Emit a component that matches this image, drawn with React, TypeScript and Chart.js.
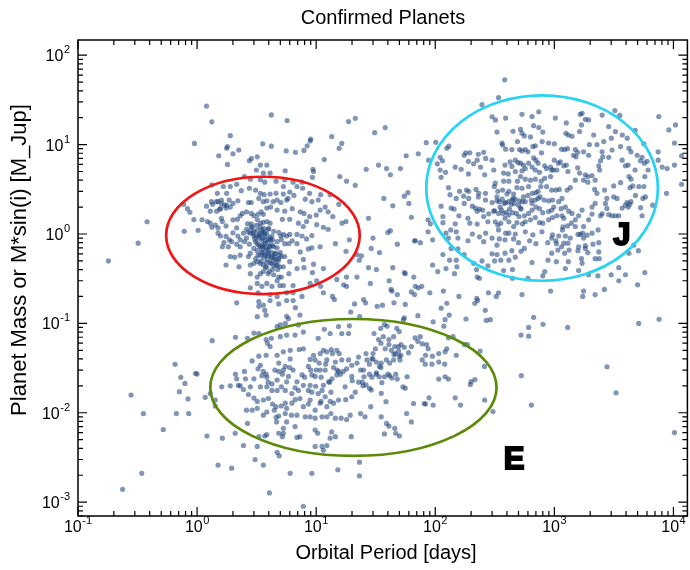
import { useEffect, useRef } from "react";
import { Chart, registerables } from "chart.js";

Chart.register(...registerables);

// Each entry: [orbital period (days), planet mass or M*sin(i) (M_Jup)]
const hotJupiters: [number, number][] = [
  [0.95,10.3],[1.8,9.5],[1.77,9.1],[3.56,10.2],[4.2,9.6],[8.4,9.7],[8.9,11],[16.4,10.3],[15.6,9.1],[1.52,7.5],
  [2.0,7.9],[2.24,8.7],[5.6,8.5],[6.7,8.2],[7.9,8.6],[11.7,6.8],[2.86,7.0],[3.2,7.3],[2.75,6.6],[1.8,6.0],
  [3.4,5.9],[3.85,5.9],[3.15,5.2],[3.6,4.8],[4.1,4.8],[5.5,5.1],[9.4,5.3],[9.5,5.0],[15.8,4.4],[18,3.9],
  [21.3,3.5],[9.3,4.3],[2.5,4.4],[2.8,4.1],[3.4,4.05],[3.7,3.8],[4.6,3.9],[5.45,4.05],[6.4,3.8],[7.6,3.8],
  [1.33,3.55],[1.66,3.4],[1.9,3.4],[2.15,3.6],[2.75,3.25],[3.1,3.1],[2.35,3.05],[3.4,2.85],[3.65,2.75],[4.1,2.8],
  [4.6,2.85],[5.3,3.4],[5.3,2.8],[6.0,2.95],[6.9,3.4],[7.7,3.25],[8.8,2.85],[10.9,2.75],[13.1,2.75],[15.5,2.15],
  [1.48,2.85],[1.77,2.85],[1.32,2.3],[1.35,2.15],[1.5,2.3],[1.6,2.4],[1.2,2.05],[1.29,1.8],[1.46,1.8],[1.57,1.92],
  [1.77,2.1],[1.86,2.4],[2.2,2.35],[2.7,2.25],[2.85,2.25],[3.3,2.5],[3.6,2.3],[3.85,2.35],[4.35,2.3],[4.7,2.4],
  [5.05,2.25],[5.65,2.4],[5.8,2.5],[6.5,2.7],[8.1,2.45],[9.2,2.3],[10.4,2.4],[0.77,2.15],[0.83,1.92],[0.87,1.75],
  [0.94,1.45],[1.1,1.44],[1.02,1.1],[0.78,1.07],[1.22,1.38],[1.29,1.32],[1.33,1.19],[1.42,1.26],[1.5,1.17],[1.6,1.5],
  [1.63,1.38],[1.75,1.23],[2.0,1.44],[2.18,1.46],[2.3,1.6],[2.4,1.7],[2.6,1.77],[2.85,1.7],[3.24,1.66],[3.45,1.77],
  [3.6,1.66],[3.85,1.95],[4.15,2.0],[4.7,1.85],[5.45,1.8],[6.3,1.92],[7.35,1.77],[7.9,1.7],[8.8,1.57],[10,1.63],
  [10.8,1.85],[11.9,2.0],[12.6,1.77],[13.8,1.57],[16.5,1.32],[17.8,1.38],[8.3,1.38],[7.8,1.21],[7.1,1.32],[6.0,1.46],
  [5.2,1.46],[10.1,1.27],[11.5,1.19],[12.6,1.13],[1.5,1.02],[1.57,0.95],[1.75,0.94],[1.87,0.86],[2.0,1.03],[2.15,1.17],
  [2.2,0.95],[2.3,0.86],[2.45,1.02],[2.6,1.13],[2.8,1.02],[2.85,1.17],[3.0,1.07],[3.15,0.95],[3.3,0.99],[3.5,1.11],
  [3.7,1.02],[3.95,1.13],[4.1,1.32],[3.85,1.38],[4.25,0.95],[4.4,1.07],[4.85,1.04],[5.05,0.95],[5.3,0.99],[5.65,0.95],
  [6.0,0.99],[6.9,0.99],[7.6,0.95],[8.3,0.88],[9.2,0.96],[1.63,0.72],[1.68,0.8],[1.83,0.72],[1.95,0.82],[2.15,0.77],
  [2.3,0.72],[2.5,0.82],[2.75,0.77],[3.0,0.69],[3.2,0.78],[3.4,0.72],[3.6,0.72],[3.85,0.66],[4.1,0.73],[4.4,0.72],
  [4.7,0.82],[5.1,0.86],[5.45,0.78],[5.9,0.78],[6.3,0.84],[6.9,0.78],[7.35,0.63],[8.6,0.68],[9.2,0.7],[10.8,0.72],
  [14.5,0.78],[19,0.86],[17.8,0.64],[22,0.59],[24,0.57],[23,0.51],[1.9,0.56],[2.07,0.55],[2.3,0.58],[2.7,0.56],
  [2.8,0.61],[3.1,0.53],[3.4,0.58],[3.7,0.58],[3.95,0.58],[4.25,0.55],[4.55,0.61],[4.85,0.53],[5.1,0.56],[5.45,0.56],
  [6.0,0.49],[7.8,0.52],[9.5,0.46],[1.75,0.45],[2.25,0.43],[2.8,0.45],[3.0,0.47],[3.2,0.49],[3.4,0.47],[3.6,0.45],
  [3.85,0.43],[4.1,0.48],[4.4,0.44],[4.7,0.45],[4.95,0.43],[5.3,0.43],[6.9,0.41],[7.9,0.42],[11.5,0.41],[9.3,0.37],
  [2.8,0.36],[3.2,0.33],[3.4,0.36],[3.6,0.38],[3.95,0.36],[4.4,0.35],[4.85,0.33],[5.1,0.33],[5.9,0.36],[10.1,0.3],
  [14.9,0.31],[18,0.33],[22,0.33],[17,0.27],[18,0.26],[2.8,0.25],[3.2,0.28],[3.5,0.26],[3.85,0.28],[4.25,0.26],
  [4.7,0.3],[4.95,0.265],[5.3,0.265],[6.4,0.265],[8.9,0.28],[10.9,0.26],[6.4,0.22],[5.65,0.22],[3.25,0.22],[4.1,0.21],
  [4.7,0.2],[7.6,0.2],[11.5,0.22],[13.7,0.2],[14.2,0.185],[25,0.185],[26,0.17],[21,0.165],[2.15,0.17],[3.3,0.175],
  [3.6,0.16],[4.1,0.18],[4.85,0.165],[5.65,0.18],[6.4,0.18],[6.7,0.15],[3.3,0.155],
  [3.3,0.9],[3.5,0.85],[3.7,0.95],[3.9,0.8],[4.1,0.9],[3.2,1.1],[3.4,1.2],[3.6,1.05],[3.0,0.95],[2.9,1.2],
  [4.3,0.75],[4.5,0.6],[4.0,0.65],[3.8,0.7],[3.5,0.62],[4.2,0.55],[4.4,0.5],[3.9,0.52],[4.6,0.45],[4.8,0.5],
  [3.3,0.75],[3.1,0.82],[2.7,1.05],[2.6,0.9],[3.6,1.35],[3.2,1.45],[3.0,1.6],[2.85,1.3],[4.7,0.7],[5.0,0.62],
  [3.75,0.42],[4.05,0.38],[4.3,0.4],[3.45,0.5],[3.25,0.58],[4.15,0.85],[3.55,0.75],[3.85,1.0],[4.0,1.15],[3.65,0.55],
  [1.6,2.2],[1.7,2.1],[1.55,1.9],[1.9,2.0],[2.0,2.2],[1.45,2.3],[1.75,1.95],
  [3.35,0.95],[3.55,0.9],[3.75,0.85],[3.95,0.88],[3.45,1.02],[3.7,0.78],[4.05,0.72],[4.25,0.62],[3.95,0.6],[4.45,0.55],
  [4.6,0.52],[4.2,0.47],[3.8,0.48],[3.5,0.68],[3.2,0.65],[3.05,0.88],[2.95,1.02],[3.65,1.15],[3.4,1.32],[4.3,0.86],
  [4.9,0.58],[4.75,0.4],[3.6,0.62],[3.15,1.25],[2.65,1.3],
];

const coldGiants: [number, number][] = [
  [340,33.5],[383,53],[247,28],[300,20.5],[320,18.9],[390,19.8],[535,21.8],[650,20.6],[740,23.3],[670,16.3],
  [740,15.5],[800,13.8],[330,13.8],[450,14.1],[520,14.8],[535,13.4],[560,12.5],[630,12.2],[490,10.8],[363,10.4],
  [368,9.9],[390,8.9],[440,8.8],[510,8.8],[535,8.5],[570,8.8],[600,8.3],[660,9.5],[692,9.7],[790,10.8],
  [895,10.4],[1000,10.2],[780,8.1],[1000,6.7],[930,5.6],[980,5.2],[84,10.5],[101,10.6],[125,9.1],[130,9.6],
  [72,7.9],[88,6.7],[110,7.2],[115,6.6],[180,8.1],[195,8.1],[175,7.6],[230,7.8],[255,8.2],[225,6.7],
  [265,7.0],[300,6.7],[190,6.5],[210,6.1],[240,5.6],[385,5.9],[425,6.4],[470,6.7],[495,6.3],[440,5.7],
  [520,6.2],[550,5.9],[608,6.2],[670,7.1],[700,6.7],[730,6.2],[830,5.8],[860,5.4],[950,5.2],[104,6.1],
  [110,5.2],[122,4.9],[147,5.6],[165,5.3],[190,4.7],[112,4.3],[260,4.6],[310,5.2],[375,4.8],[410,4.7],
  [470,5.0],[535,5.1],[570,5.4],[650,5.6],[692,5.2],[750,4.9],[930,4.4],[319,3.7],[375,3.9],[415,3.9],
  [490,3.9],[520,4.4],[570,4.1],[630,4.0],[692,4.1],[775,3.9],[830,4.2],[129,3.3],[160,3.0],[183,3.1],
  [191,3.0],[220,3.15],[232,2.85],[264,2.85],[133,2.75],[150,2.5],[173,2.65],[191,2.5],[230,2.6],[313,3.4],
  [335,3.0],[368,3.1],[415,3.0],[455,2.8],[485,3.3],[535,3.25],[608,3.4],[655,2.85],[730,3.0],[770,3.4],
  [860,3.4],[950,3.1],[112,2.05],[136,1.95],[144,1.9],[175,2.2],[205,2.05],[217,1.95],[235,1.9],[250,1.85],
  [264,2.4],[300,2.25],[330,2.35],[345,2.3],[365,2.45],[390,2.25],[413,2.3],[440,2.4],[460,2.2],[510,2.35],
  [550,2.6],[570,2.3],[650,2.2],[692,2.4],[730,2.5],[820,2.4],[895,2.35],[965,2.4],[116,1.57],[158,1.6],
  [188,1.5],[225,1.8],[255,1.57],[281,1.68],[315,1.82],[340,1.7],[372,1.7],[413,1.63],[445,1.73],[505,1.57],
  [525,1.9],[608,1.7],[650,1.85],[700,2.0],[750,1.92],[800,1.73],[895,1.78],[950,1.85],[990,2.0],[87,1.44],
  [91,1.3],[116,1.34],[147,1.3],[195,1.32],[225,1.29],[277,1.37],[319,1.37],[335,1.26],[355,1.32],[385,1.5],
  [415,1.37],[455,1.21],[485,1.34],[540,1.3],[570,1.37],[630,1.44],[692,1.53],[750,1.34],[800,1.32],[895,1.44],
  [965,1.53],[87,1.06],[123,1.02],[135,1.11],[150,1.06],[205,1.0],[265,1.02],[340,1.11],[390,1.02],[415,1.02],
  [470,1.0],[570,1.06],[660,0.98],[787,1.06],[965,0.98],[68,0.84],[75,0.8],[95,0.86],[129,0.9],[155,0.9],
  [188,0.84],[235,0.93],[255,0.82],[300,0.9],[330,0.75],[345,0.88],[385,0.86],[455,0.88],[500,0.8],[620,0.84],
  [700,0.78],[880,0.8],[950,0.9],[136,0.69],[116,0.59],[155,0.68],[175,0.59],[300,0.6],[330,0.59],[385,0.61],
  [440,0.65],[470,0.55],[525,0.64],[560,0.69],[950,0.61],[132,0.51],[150,0.51],[210,0.47],[247,0.5],[315,0.5],
  [355,0.51],[415,0.51],[650,0.48],[885,0.51],[95,0.45],[123,0.41],[152,0.43],[105,0.38],[145,0.36],[222,0.4],
  [277,0.44],[375,0.39],[445,0.4],[830,0.38],[225,0.33],[235,0.32],[445,0.32],[600,0.32],[800,0.34],[68,0.26],
  [72,0.25],[77,0.26],[90,0.22],[117,0.23],[158,0.2],[280,0.22],[325,0.2],[340,0.22],[535,0.21],[930,0.23],
  [1020,19.8],[1260,17.5],[1650,21.8],[1710,22.4],[1820,19.2],[1940,18.9],[1690,16.6],[1630,14.0],[2520,21.4],[3220,24],
  [3540,21.2],[2860,15.9],[3260,14.0],[3720,12.8],[4090,11.8],[4770,14.4],[1250,13.4],[1310,12.8],[1407,12.4],[2140,12.8],
  [3010,11.8],[1970,10.0],[2280,10.0],[2600,10.8],[3055,8.7],[3600,9.5],[4230,9.1],[4400,8.3],[4960,7.6],[5460,7.2],
  [5640,10.2],[7535,20.6],[9150,14.6],[10400,16.6],[10200,10.4],[7440,8.3],[7440,6.7],[8050,5.6],[8850,5.4],[10200,5.9],
  [11700,7.5],[11700,3.6],[8750,2.85],[6700,2.1],[1150,8.9],[1220,8.8],[1290,9.0],[1500,8.8],[1570,8.2],[1520,7.3],
  [1450,7.6],[1760,8.3],[1940,7.6],[2520,8.3],[2550,7.3],[2440,6.6],[2860,7.2],[3710,6.7],[3955,5.8],[4170,5.9],
  [5280,6.6],[5700,6.2],[6000,6.5],[6120,5.2],[4760,5.2],[5750,4.4],[1050,5.2],[1080,6.2],[1120,6.4],[1200,5.8],
  [1260,5.9],[1300,5.0],[1570,5.5],[1630,4.8],[1820,4.6],[1910,4.4],[2070,4.5],[2200,4.0],[2360,5.8],[2400,5.2],
  [1760,4.0],[1910,3.8],[2180,3.15],[2640,3.1],[2280,2.85],[2760,2.5],[3150,2.6],[3360,2.5],[3150,3.45],[3600,3.75],
  [4230,4.4],[4400,4.1],[4550,3.45],[5120,3.4],[5640,3.4],[5540,2.5],[5820,2.6],[4320,3.3],[3955,2.1],[4080,2.25],
  [3710,1.95],[3475,1.6],[3260,1.6],[3055,1.6],[2860,1.65],[2520,1.68],[2440,1.6],[2073,2.0],[2200,2.2],[2685,2.2],
  [2760,1.93],[2073,1.67],[1940,1.44],[1710,1.85],[1600,1.6],[1500,1.44],[1407,1.7],[1320,1.8],[1237,2.0],[1140,1.92],
  [1088,2.3],[1160,2.5],[1100,3.15],[1280,3.1],[1360,3.3],[1500,4.0],[1030,3.1],[1050,1.6],[1160,1.6],[1200,1.5],
  [4800,2.7],[5300,1.97],[5460,1.6],[4400,2.3],[4170,2.0],[4300,2.15],[1760,1.21],[1500,1.21],[1390,1.32],[1290,1.23],
  [1180,1.2],[1088,0.95],[1170,1.11],[1237,0.95],[1360,0.9],[1580,0.99],[1650,0.99],[1730,1.02],[1880,0.97],[2073,1.02],
  [2330,1.11],[1760,0.9],[1820,0.74],[1600,0.72],[1820,0.69],[1910,0.62],[2110,0.77],[2360,0.8],[1030,0.84],[1040,0.78],
  [1150,0.72],[1200,0.79],[1300,0.79],[1070,0.66],[1220,0.61],[1330,0.66],[1580,0.65],[2200,0.53],[2380,0.53],[2360,0.63],
  [1690,0.53],[1710,0.47],[1310,0.49],[1040,0.49],[1237,0.41],[1600,0.39],[1940,0.35],[2320,0.34],[3000,0.35],[3955,0.35],
  [3475,0.42],[4230,0.61],[4640,0.75],[5080,0.65],[5750,0.37],[5000,0.27],[3475,0.3],[2630,0.24],[2200,0.21],[1760,0.23],
  [1730,0.2],
  [350,2.0],[380,2.2],[420,1.9],[450,2.5],[500,2.1],[540,2.3],[310,1.8],[330,2.6],[480,1.7],[600,2.7],
  [640,2.4],[700,2.9],[760,2.6],[560,1.6],[400,2.8],[360,1.85],[435,2.15],[520,1.95],[470,2.45],[395,1.75],
];

const superEarths: [number, number][] = [
  [3.2,0.119],[3.7,0.14],[3.8,0.124],[5.65,0.12],[5.85,0.113],[7.3,0.124],[4.7,0.092],[5.0,0.096],[5.5,0.1],[7.1,0.096],
  [7.8,0.08],[3.0,0.078],[3.3,0.077],[2.1,0.07],[2.65,0.068],[3.8,0.066],[4.2,0.068],[3.9,0.06],[4.1,0.055],[5.0,0.071],
  [5.65,0.074],[6.65,0.074],[10.4,0.068],[11.7,0.086],[15.4,0.092],[19,0.094],[16.4,0.077],[18.7,0.077],[13.1,0.077],[1.34,0.064],
  [6.05,0.05],[7.2,0.051],[7.8,0.052],[5.3,0.048],[6.05,0.04],[4.7,0.044],[3.8,0.044],[3.3,0.043],[2.9,0.038],[3.4,0.034],
  [3.25,0.031],[3.6,0.029],[3.8,0.027],[3.85,0.025],[3.5,0.026],[3.95,0.022],[4.25,0.021],[4.7,0.0232],[4.85,0.036],[4.85,0.029],
  [5.5,0.033],[5.3,0.03],[5.85,0.0255],[5.65,0.0222],[6.4,0.03],[6.9,0.0222],[7.6,0.0265],[7.8,0.0203],[8.6,0.033],[8.9,0.0395],
  [9.5,0.044],[9.8,0.039],[10.6,0.036],[10.8,0.046],[11.5,0.05],[12.3,0.048],[13.4,0.051],[13.7,0.046],[14.9,0.05],[15.6,0.046],
  [16.4,0.039],[14.5,0.037],[12.3,0.039],[11.9,0.03],[10.8,0.03],[9.8,0.0255],[9.2,0.0265],[8.9,0.0203],[9.9,0.0198],[11.2,0.0178],
  [11.5,0.0203],[12.7,0.0222],[13.6,0.024],[14.9,0.0265],[15.4,0.029],[16.9,0.029],[18,0.031],[18.7,0.039],[19.9,0.034],[19.9,0.0255],
  [17.5,0.0195],[13.3,0.017],[11.9,0.0151],[11.0,0.0134],[10.4,0.0164],[9.2,0.017],[8.6,0.0178],[7.1,0.0178],[6.65,0.019],[6.25,0.0164],
  [5.5,0.0178],[5.1,0.0195],[4.7,0.0178],[4.25,0.0178],[3.85,0.0195],[3.4,0.0195],[2.8,0.0195],[2.45,0.0182],[2.22,0.0203],[2.15,0.024],
  [2.3,0.02],[2.55,0.024],[3.0,0.024],[2.5,0.029],[2.1,0.027],[1.9,0.02],[1.61,0.0195],[1.17,0.0149],[1.29,0.0164],[1.42,0.0139],
  [1.42,0.0119],[2.7,0.016],[3.0,0.0146],[3.2,0.0134],[3.6,0.0139],[3.97,0.0144],[4.3,0.0125],[4.6,0.0117],[5.1,0.0119],[5.5,0.0128],
  [5.65,0.0112],[6.25,0.0128],[6.65,0.014],[7.3,0.0144],[7.8,0.0117],[8.6,0.0125],[8.9,0.0139],[9.8,0.0107],[10.8,0.0128],[12.3,0.0117],
  [13.1,0.0134],[14.0,0.0128],[15.4,0.0139],[17.7,0.014],[19.9,0.0151],[20.1,0.0228],[21.3,0.017],[19.3,0.0094],[18,0.0084],[16.2,0.0087],
  [14.5,0.0087],[13.3,0.0098],[12.3,0.009],[11.2,0.009],[9.8,0.0087],[8.9,0.009],[8.1,0.009],[6.9,0.0094],[6.2,0.0094],[5.5,0.0098],
  [4.85,0.0092],[4.6,0.0089],[4.45,0.0107],[3.85,0.0102],[3.6,0.0094],[3.2,0.0112],[2.9,0.0107],[2.6,0.0107],[2.65,0.0076],[4.65,0.0079],
  [5.65,0.0079],[6.65,0.007],[7.3,0.0054],[6.9,0.0053],[5.3,0.0067],[5.3,0.0059],[5.2,0.0054],[4.85,0.0059],[3.85,0.0057],[3.7,0.0055],
  [3.3,0.0054],[3.2,0.0042],[2.45,0.0043],[2.09,0.0059],[1.63,0.0052],[1.21,0.0055],[9.8,0.0064],[10.3,0.0059],[11.2,0.0042],[11.5,0.0038],
  [12.3,0.0043],[13.5,0.0061],[13.1,0.0052],[14.5,0.0054],[19.7,0.0054],[4.7,0.0036],[4.9,0.0033],[9.8,0.0042],[3.07,0.003],[3.6,0.0026],
  [1.95,0.0024],[1.5,0.0026],[6.05,0.0021],[9.2,0.0021],[15.2,0.0023],[0.97,0.0276],
  [34.8,0.088],[37.4,0.097],[39.4,0.093],[47.5,0.088],[49.8,0.081],[30.6,0.077],[33.4,0.066],[40.8,0.066],[36.6,0.071],[44.7,0.071],
  [40.8,0.058],[45.7,0.055],[49.2,0.055],[51.5,0.058],[55,0.054],[46.3,0.046],[49.2,0.049],[51.5,0.044],[42.8,0.05],[38,0.052],
  [35,0.06],[31.4,0.052],[30,0.046],[26.2,0.046],[22.7,0.042],[26.7,0.039],[29.4,0.04],[32,0.037],[35.2,0.036],[38.9,0.039],
  [41.4,0.036],[44.7,0.039],[49.8,0.043],[50.5,0.039],[59.6,0.047],[67.7,0.069],[74.8,0.071],[71.4,0.063],[77.7,0.059],[84.5,0.058],
  [87.2,0.052],[82.9,0.044],[77.7,0.039],[82.4,0.035],[93.8,0.035],[94.7,0.043],[107,0.037],[120,0.035],[121,0.048],[129,0.069],
  [141,0.071],[150,0.044],[125,0.052],[107,0.046],[63,0.055],[34,0.033],[32,0.027],[29.4,0.025],[33.8,0.0253],[37.4,0.0253],
  [41.4,0.026],[46.6,0.027],[48,0.0238],[43.3,0.0245],[35.6,0.0217],[28,0.027],[25.2,0.0253],[23.6,0.03],[24.4,0.022],[22.7,0.022],
  [26.2,0.0205],[28,0.0188],[29,0.018],[24.7,0.02],[35.2,0.0165],[38.6,0.0133],[53.5,0.0195],[56,0.0188],[58,0.0253],[57.5,0.0098],
  [63,0.0079],[65.7,0.0127],[80.8,0.0127],[82.9,0.0125],[88.6,0.0147],[96,0.0122],[107,0.0238],[121,0.0253],[129,0.0238],[147,0.0147],
  [163,0.0122],[197,0.0207],[200,0.0223],[215,0.0235],[176,0.058],[186,0.058],[238,0.049],[259,0.033],[305,0.0103],[260,0.0139],
  [35.2,0.009],[39,0.0076],[40.8,0.0071],[45.7,0.0067],[46.6,0.0059],[50,0.0055],[37.4,0.0058],[25.7,0.009],[28.7,0.0117],[23.6,0.0098],
  [23.1,0.0028],
  [25,0.03],[28,0.035],[32,0.028],[35,0.032],[40,0.027],[22,0.036],[30,0.04],[45,0.045],[4.5,0.03],[5.2,0.027],
  [6,0.032],[8,0.025],[9,0.03],[12,0.035],[15,0.03],[10,0.03],[11,0.025],[13,0.022],[14,0.032],[16,0.027],
];

const scatteredPlanets: [number, number][] = [
  [1.2,27],[1.33,18],[4.2,21.5],[5.7,18.6],[18.7,18.1],[21.3,19.7],[1.9,12.6],[9.0,11.5],[13.5,12.3],[31,13.6],
  [33.4,5.9],[26.3,5.3],[0.38,1.37],[0.32,0.79],[0.18,0.5],[27.5,1.5],[30,0.9],[29,0.69],[27.5,0.42],[32,0.4],
  [0.279,0.0158],[0.354,0.0098],[0.52,0.0065],[0.237,0.00139],[0.343,0.0021],[0.653,0.0348],[0.73,0.0249],[0.79,0.0213],[0.71,0.0172],[0.84,0.0143],
  [0.67,0.0098],[0.85,0.0098],[1.0,0.0271],[4.05,0.00127],[7.8,0.0009],[23.1,0.00197],
  [41,0.3],[42.5,0.24],[43.3,0.23],[48,0.21],[45,0.17],[36,0.16],[32.5,0.155],[56,0.163],[63,0.225],[67,0.21],
  [125,0.168],[112,0.148],[131,0.124],[215,0.168],[227,0.18],[223,0.19],[263,0.14],[290,0.11],[268,0.108],[181,0.112],
  [19.5,0.134],[23.2,0.119],[71.5,0.122],[96,0.104],[118,0.093],[121,0.11],[55,0.115],[54,0.11],[28.5,0.28],
  [38,15.5],[57,7.5],[39,5.4],[42,4.6],[51,5.4],[55,2.65],[59,2.9],[37,2.5],[60,2.2],[44,2.07],
  [63,1.54],[40,1.04],[42,1.09],[48,0.77],[67,0.84],[34,0.62],[44,0.42],[55,0.37],[56,0.36],[66,0.33],
  [670,0.117],[608,0.09],[803,0.0975],[525,0.074],[608,0.072],[1294,0.09],[528,0.026],[641,0.0122],[2770,0.0327],[3300,0.0167],
  [5110,0.1],[7580,0.111],[10200,0.006],
];

// Axis limits
const periodLimits = [0.1, 13100];
const massLimits = [0.0007, 148];

// Decade exponents that carry a "10^n" tick label
const periodTickExponents = [-1, 0, 1, 2, 3, 4];
const massTickExponents = [-3, -2, -1, 0, 1, 2];

// Population outlines: period span, mass span, colour
const outlinePeriods: [number, number][] = [[0.55, 23.2], [84, 7410], [1.29, 327]];
const outlineMasses: [number, number][] = [[0.213, 4.37], [0.3, 35.6], [0.00329, 0.112]];
const outlineColors = ["#f01414", "#25d3f3", "#5b8a06"];

// Population labels
const classLabels = ["J", "E"];
const classLabelPeriods = [3690, 459];
const classLabelMasses = [0.96, 0.003];

const FONT = "'Liberation Sans', Arial, Helvetica, sans-serif";

function drawPowerOfTen(
  ctx: CanvasRenderingContext2D,
  exp: number,
  x: number,
  baseline: number,
  align: "center" | "right"
) {
  const base = "10";
  const sup = String(exp);
  ctx.font = `16px ${FONT}`;
  const wb = ctx.measureText(base).width;
  ctx.font = `11px ${FONT}`;
  const ws = ctx.measureText(sup).width;
  const total = wb + ws + 0.5;
  const start = align === "center" ? x - total / 2 : x - total;
  ctx.textAlign = "left";
  ctx.textBaseline = "alphabetic";
  ctx.font = `16px ${FONT}`;
  ctx.fillText(base, start, baseline);
  ctx.font = `11px ${FONT}`;
  ctx.fillText(sup, start + wb + 0.5, baseline - 8);
}

const frameAndAnnotations = {
  id: "frameAndAnnotations",
  afterDatasetsDraw(chart: Chart) {
    const { ctx, chartArea: a } = chart;
    const xs = chart.scales.x;
    const ys = chart.scales.y;
    ctx.save();

    // population outlines (ellipses in log-log space)
    outlinePeriods.forEach((pr, i) => {
      const x0 = xs.getPixelForValue(pr[0]);
      const x1 = xs.getPixelForValue(pr[1]);
      const y0 = ys.getPixelForValue(outlineMasses[i][0]);
      const y1 = ys.getPixelForValue(outlineMasses[i][1]);
      ctx.beginPath();
      ctx.ellipse((x0 + x1) / 2, (y0 + y1) / 2, Math.abs(x1 - x0) / 2, Math.abs(y0 - y1) / 2, 0, 0, Math.PI * 2);
      ctx.strokeStyle = outlineColors[i];
      ctx.lineWidth = 2.7;
      ctx.stroke();
    });

    // population labels
    ctx.fillStyle = "#000";
    ctx.strokeStyle = "#000";
    ctx.lineWidth = 2;
    ctx.font = `bold 31px ${FONT}`;
    ctx.textAlign = "center";
    ctx.textBaseline = "middle";
    classLabels.forEach((t, i) => {
      const px = xs.getPixelForValue(classLabelPeriods[i]);
      const py = ys.getPixelForValue(classLabelMasses[i]);
      ctx.fillText(t, px, py + 1);
      ctx.strokeText(t, px, py + 1);
    });

    // frame
    ctx.strokeStyle = "#000";
    ctx.lineWidth = 1.5;
    ctx.strokeRect(a.left, a.top, a.right - a.left, a.bottom - a.top);

    // log ticks on all four sides, pointing inward
    ctx.lineWidth = 1.2;
    ctx.beginPath();
    for (let e = -2; e <= 5; e++) {
      for (let k = 1; k <= 9; k++) {
        const v = k * Math.pow(10, e);
        if (v < periodLimits[0] || v > periodLimits[1]) continue;
        const px = xs.getPixelForValue(v);
        const len = k === 1 ? 9 : 5;
        ctx.moveTo(px, a.bottom);
        ctx.lineTo(px, a.bottom - len);
        ctx.moveTo(px, a.top);
        ctx.lineTo(px, a.top + len);
      }
    }
    for (let e = -4; e <= 3; e++) {
      for (let k = 1; k <= 9; k++) {
        const v = k * Math.pow(10, e);
        if (v < massLimits[0] || v > massLimits[1]) continue;
        const py = ys.getPixelForValue(v);
        const len = k === 1 ? 9 : 5;
        ctx.moveTo(a.left, py);
        ctx.lineTo(a.left + len, py);
        ctx.moveTo(a.right, py);
        ctx.lineTo(a.right - len, py);
      }
    }
    ctx.stroke();

    // tick labels
    ctx.fillStyle = "#000";
    periodTickExponents.forEach((e) => {
      drawPowerOfTen(ctx, e, xs.getPixelForValue(Math.pow(10, e)), a.bottom + 16, "center");
    });
    massTickExponents.forEach((e) => {
      drawPowerOfTen(ctx, e, a.left - 8, ys.getPixelForValue(Math.pow(10, e)) + 6, "right");
    });

    // axis titles
    ctx.textAlign = "center";
    ctx.textBaseline = "middle";
    ctx.font = `20px ${FONT}`;
    ctx.fillText("Orbital Period [days]", 386, a.bottom + 37);
    ctx.save();
    ctx.translate(20, 260);
    ctx.rotate(-Math.PI / 2);
    ctx.font = `22px ${FONT}`;
    ctx.fillText("Planet Mass or M*sin(i) [M_Jup]", 0, 0);
    ctx.restore();

    ctx.restore();
  },
};

export default function App() {
  const canvasRef = useRef<HTMLCanvasElement | null>(null);

  useEffect(() => {
    const canvas = canvasRef.current;
    if (!canvas) return;
    const points = [...hotJupiters, ...coldGiants, ...superEarths, ...scatteredPlanets].map(([p, m]) => ({ x: p, y: m }));
    const chart = new Chart(canvas, {
      type: "scatter",
      data: {
        datasets: [
          {
            label: "Confirmed planets",
            data: points,
            pointRadius: 2.6,
            pointHoverRadius: 2.6,
            pointBorderWidth: 0,
            backgroundColor: "rgba(30, 68, 124, 0.56)",
            borderColor: "rgba(0,0,0,0)",
          },
        ],
      },
      options: {
        responsive: false,
        animation: false,
        devicePixelRatio: 1,
        events: [],
        layout: { padding: { left: 78, right: 2, top: 0, bottom: 54 } },
        scales: {
          x: { type: "logarithmic", min: periodLimits[0], max: periodLimits[1], display: false },
          y: { type: "logarithmic", min: massLimits[0], max: massLimits[1], display: false },
        },
        plugins: {
          legend: { display: false },
          tooltip: { enabled: false },
          title: {
            display: true,
            text: "Confirmed Planets",
            color: "#000",
            font: { family: FONT, size: 20, weight: "normal", lineHeight: 1.2 },
            padding: { top: 6, bottom: 10 },
          },
        },
      },
      plugins: [frameAndAnnotations],
    });
    return () => chart.destroy();
  }, []);

  return (
    <div style={{ position: "absolute", left: 0, top: 0, width: 690, height: 570, background: "#fff" }}>
      <canvas ref={canvasRef} width={690} height={570} />
    </div>
  );
}
